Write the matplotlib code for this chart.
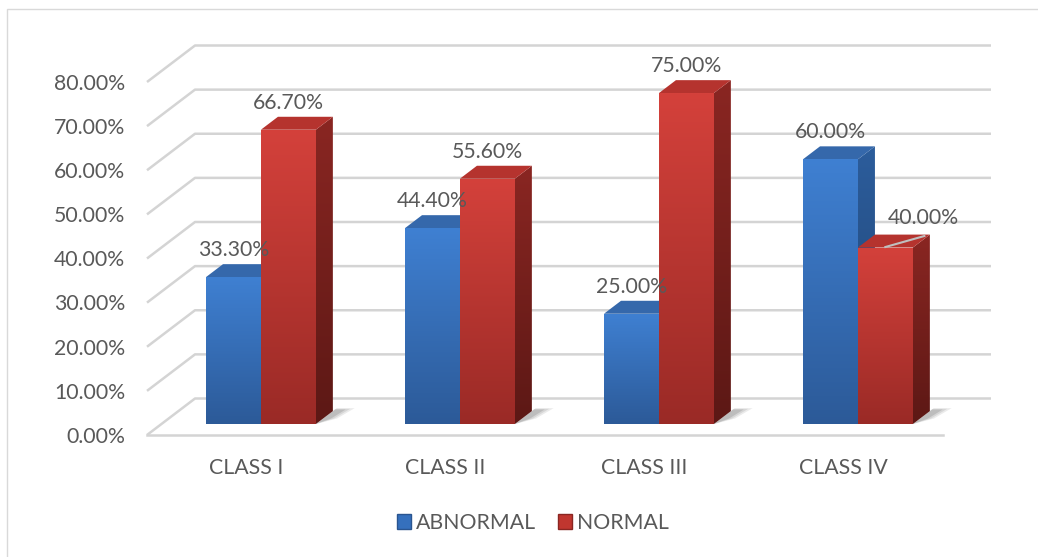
import matplotlib
matplotlib.use('Agg')
import matplotlib.pyplot as plt
import numpy as np
from matplotlib.patches import Polygon, Rectangle, Patch
from matplotlib.colors import LinearSegmentedColormap

# ---------------- data ----------------
categories = ['CLASS I', 'CLASS II', 'CLASS III', 'CLASS IV']
abnormal = [33.3, 44.4, 25.0, 60.0]
normal = [66.7, 55.6, 75.0, 40.0]
series_names = ['ABNORMAL', 'NORMAL']
yticks = [0, 10, 20, 30, 40, 50, 60, 70, 80]

# ---------------- style ----------------
plt.rcParams['font.family'] = ['Lato', 'DejaVu Sans']
TXT = '#595959'
GRID = '#d4d4d4'
FS = 15.3

W, H = 1038, 557
fig = plt.figure(figsize=(W / 100, H / 100), dpi=100)
PXX = 199.0            # pixels per category unit
PXY = 353.0 / 80.0     # pixels per percent
XL, XR = -0.8, 3.8
YB, YT = -12, 92
left_px = 147 - (-0.5 - XL) * PXX
bot_px = 122 + YB * PXY
ax = fig.add_axes([left_px / W, bot_px / H, (XR - XL) * PXX / W, (YT - YB) * PXY / H])
ax.axis('off')

DX = 48 / PXX          # full floor depth in data units
DY = 36.5 / PXY
F0, F1 = 0.30, 0.655   # bar depth range
BW = 0.276             # bar width


def P(x, y, f):
    return (x + f * DX, y + f * DY)


# chart border
fig.add_artist(Rectangle((7 / W, -0.5), 1.5, (1 - 9 / H) + 0.5, transform=fig.transFigure,
                         fill=False, edgecolor='#d9d9d9', lw=1.0))

# gridlines: side wall + back wall
for t in yticks:
    a = P(-0.5, t, 0)
    b = P(-0.5, t, 1)
    c = P(3.5, t, 1)
    ax.plot([a[0], b[0], c[0]], [a[1], b[1], c[1]], color=GRID, lw=1.8,
            solid_capstyle='butt', zorder=1)
    ax.text(-0.5 - 22 / PXX, t - 0.4, f'{t:.2f}%', ha='right', va='center',
            fontsize=FS, color=TXT)
# floor front edge
a = P(-0.5, 0, 0); b = P(3.5, 0, 0)
ax.plot([a[0], b[0]], [a[1], b[1]], color=GRID, lw=1.8, zorder=1)


def grad_fill(pts, c_top, c_bot, z):
    pts = np.array(pts)
    xmin, xmax = pts[:, 0].min(), pts[:, 0].max()
    ymin, ymax = pts[:, 1].min(), pts[:, 1].max()
    cmap = LinearSegmentedColormap.from_list('g', [c_bot, c_top])
    im = ax.imshow(np.linspace(0, 1, 256).reshape(-1, 1), extent=(xmin, xmax, ymin, ymax),
                   origin='lower', cmap=cmap, aspect='auto', interpolation='bilinear', zorder=z)
    patch = Polygon(pts, closed=True, facecolor='none', edgecolor='none', zorder=z)
    ax.add_patch(patch)
    im.set_clip_path(patch)


styles = [
    dict(front=('#3f80d2', '#2c5a98'), top='#3568ab', side=('#2c5d9c', '#1f4270')),
    dict(front=('#d4413b', '#9a2a26'), top='#b5332e', side=('#8a2622', '#5c1815')),
]

series = [abnormal, normal]
for i in range(len(categories)):
    for s, vals in enumerate(series):
        v = vals[i]
        st = styles[s]
        x0 = i - BW + s * BW
        x1 = x0 + BW
        z = 3 + i * 10 + s * 4
        # soft shadow on floor
        if s == 1:
            for k, al in enumerate([0.10, 0.12, 0.16]):
                g = 1 - k * 0.3
                sh = [P(x1, 0, F0), P(x1 + 0.02 + 0.05 * g, 0, F0 + 0.15),
                      P(x1 + 0.03 + 0.06 * g, 0, F1 + 0.02 + 0.06 * g),
                      P(x1, 0, F1 + 0.02 + 0.06 * g)]
                ax.add_patch(Polygon(sh, closed=True, facecolor='#404040', alpha=al,
                                     edgecolor='none', zorder=2))
        side = [P(x1, 0, F0), P(x1, 0, F1), P(x1, v, F1), P(x1, v, F0)]
        grad_fill(side, st['side'][0], st['side'][1], z)
        top = [P(x0, v, F0), P(x1, v, F0), P(x1, v, F1), P(x0, v, F1)]
        ax.add_patch(Polygon(top, closed=True, facecolor=st['top'], edgecolor='none', zorder=z + 1))
        front = [P(x0, 0, F0), P(x1, 0, F0), P(x1, v, F0), P(x0, v, F0)]
        grad_fill(front, st['front'][0], st['front'][1], z + 2)

        # value label
        xc, yc = P((x0 + x1) / 2, v, F0)
        if s == 1 and i == 3:
            # moved label with leader line
            ax.plot([xc, xc + 0.196], [v + 2.6, v + 5.1], color='#bfbfbf', lw=1.5, zorder=50)
            ax.text(xc + 0.19, v + 9.2, f'{v:.2f}%', ha='center', va='center',
                    fontsize=FS, color=TXT, zorder=60)
        else:
            ax.text(xc, yc + 6.1, f'{v:.2f}%', ha='center', va='center',
                    fontsize=FS, color=TXT, zorder=60)

# category labels
for i, c in enumerate(categories):
    ax.text(i, -7.4, c, ha='center', va='center', fontsize=FS, color=TXT)

ax.set_xlim(XL, XR)
ax.set_ylim(YB, YT)

handles = [Patch(facecolor='#3570bd', edgecolor='#2a5590', label=series_names[0]),
           Patch(facecolor='#c0362f', edgecolor='#8a2622', label=series_names[1])]
fig.legend(handles=handles, loc='center', bbox_to_anchor=(533 / W, 1 - 523 / H), ncol=2,
           frameon=False, fontsize=FS, labelcolor=TXT, handlelength=0.65, handleheight=0.65,
           handletextpad=0.25, columnspacing=1.0)

fig.savefig('out.png', dpi=100)
